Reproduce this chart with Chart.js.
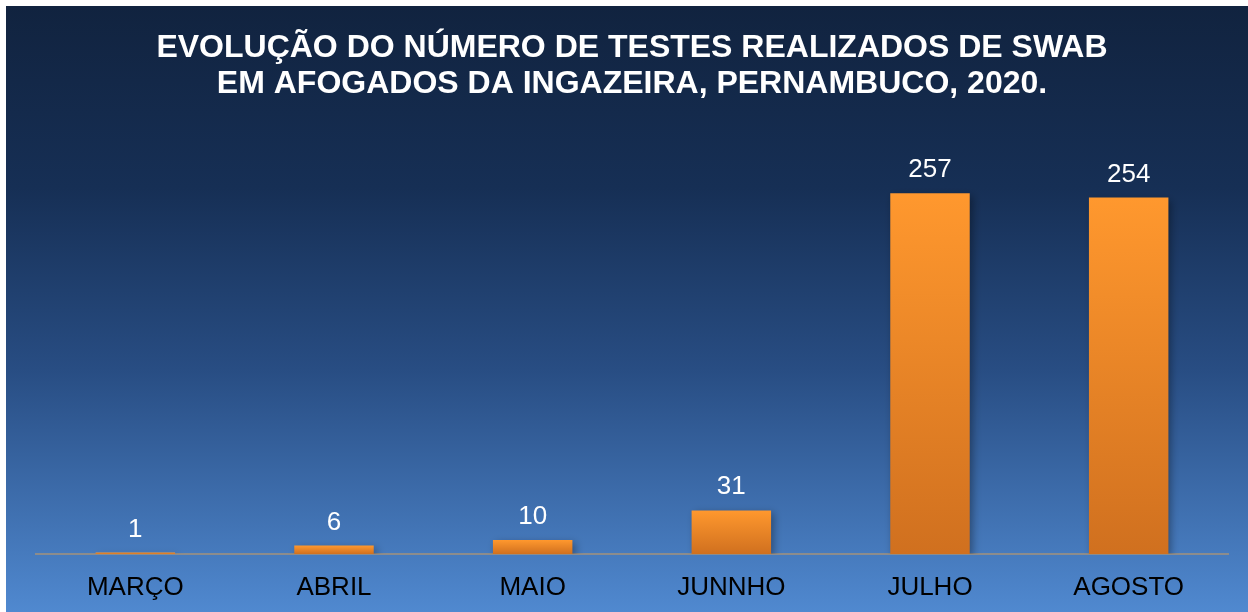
<!DOCTYPE html>
<html>
<head>
<meta charset="utf-8">
<script src="https://cdn.jsdelivr.net/npm/chart.js@4"></script>
<style>
html,body{margin:0;padding:0;background:#fff;}
#wrap{width:1248px;height:612px;}
</style>
</head>
<body>
<div id="wrap"><canvas id="c" width="1248" height="612"></canvas></div>
<script>
const titleLines = ['EVOLUÇÃO DO NÚMERO DE TESTES REALIZADOS DE SWAB', 'EM AFOGADOS DA INGAZEIRA, PERNAMBUCO, 2020.'];
const categories = ['MARÇO', 'ABRIL', 'MAIO', 'JUNNHO', 'JULHO', 'AGOSTO'];
const testCounts = [1, 6, 10, 31, 257, 254];

const FONT = '"Liberation Sans", Arial, sans-serif';

const bgPlugin = {
  id: 'bg',
  beforeDraw(chart) {
    const ctx = chart.ctx;
    ctx.save();
    ctx.fillStyle = '#ffffff';
    ctx.fillRect(0, 0, chart.width, chart.height);
    const g = ctx.createLinearGradient(0, 6, 0, chart.height);
    g.addColorStop(0, '#11233f');
    g.addColorStop(0.3, '#162f55');
    g.addColorStop(0.6, '#284d83');
    g.addColorStop(1, '#5089d0');
    ctx.fillStyle = g;
    ctx.fillRect(6, 6, chart.width - 6, chart.height - 6);
    ctx.restore();
  }
};

const barStyle = {
  id: 'barStyle',
  beforeDatasetsDraw(chart) {
    const ctx = chart.ctx;
    const meta = chart.getDatasetMeta(0);
    meta.data.forEach(el => {
      const top = Math.min(el.y, el.base - 1);
      const g = ctx.createLinearGradient(0, top, 0, el.base);
      g.addColorStop(0, '#ff982e');
      g.addColorStop(1, '#d0701f');
      el.options = Object.assign({}, el.options, { backgroundColor: g });
    });
    ctx.save();
    ctx.shadowColor = 'rgba(0,0,0,0.35)';
    ctx.shadowBlur = 8;
    ctx.shadowOffsetX = 3;
    ctx.shadowOffsetY = 3;
  },
  afterDatasetsDraw(chart) {
    const ctx = chart.ctx;
    ctx.restore();
    const meta = chart.getDatasetMeta(0);
    ctx.save();
    ctx.fillStyle = '#ffffff';
    ctx.font = '26px ' + FONT;
    ctx.textAlign = 'center';
    ctx.textBaseline = 'alphabetic';
    meta.data.forEach((el, i) => {
      ctx.fillText(String(testCounts[i]), el.x, el.y - 16);
    });
    ctx.restore();
  }
};

new Chart(document.getElementById('c'), {
  type: 'bar',
  data: {
    labels: categories,
    datasets: [{
      data: testCounts,
      backgroundColor: testCounts.map(() => '#f08a28'),
      borderWidth: 0,
      barPercentage: 0.8,
      categoryPercentage: 0.5
    }]
  },
  options: {
    responsive: false,
    animation: false,
    devicePixelRatio: 1,
    layout: { padding: { left: 36, right: 20, top: 20, bottom: 0 } },
    plugins: {
      legend: { display: false },
      tooltip: { enabled: false },
      title: {
        display: true,
        text: titleLines,
        color: '#ffffff',
        font: { family: FONT, size: 32, weight: 'bold', lineHeight: 1.125 },
        padding: { top: 10, bottom: 31 }
      }
    },
    scales: {
      x: {
        grid: { display: false, drawTicks: false },
        border: { display: true, color: '#8c8c8c', width: 2 },
        ticks: { color: '#000000', font: { family: FONT, size: 26 }, padding: 18 },
        afterFit(scale) { scale.height = 58; }
      },
      y: {
        display: false,
        min: 0,
        max: 300
      }
    }
  },
  plugins: [bgPlugin, barStyle]
});
</script>
</body>
</html>
